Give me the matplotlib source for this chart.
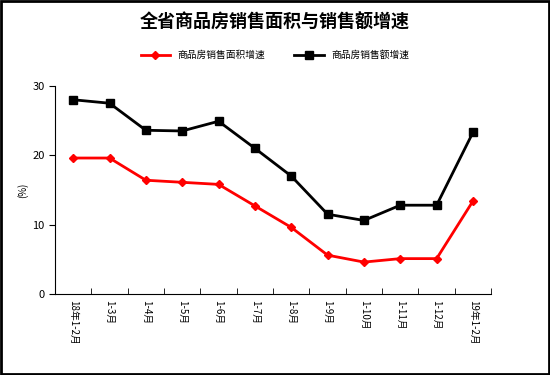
import numpy as np
import matplotlib.pyplot as plt

plt.rcParams['font.family'] = ['Noto Sans CJK SC', 'DejaVu Sans']

months = ["18年1-2月", "1-3月", "1-4月", "1-5月", "1-6月", "1-7月", "1-8月",
          "1-9月", "1-10月", "1-11月", "1-12月", "19年1-2月"]
area = [19.6, 19.6, 16.4, 16.1, 15.8, 12.7, 9.6, 5.6, 4.6, 5.1, 5.1, 13.4]
sales = [28.0, 27.5, 23.6, 23.5, 24.9, 21.0, 17.0, 11.5, 10.6, 12.8, 12.8, 23.3]

fig = plt.figure(figsize=(5.5, 3.75), dpi=100)
ax = fig.add_axes([0.1, 0.216, 0.793, 0.555])

x = np.arange(len(months))
ax.plot(x, area, color="red", lw=2, marker="D", ms=4, label="商品房销售面积增速")
ax.plot(x, sales, color="black", lw=2, marker="s", ms=6, label="商品房销售额增速")

ax.set_xlim(-0.5, len(months) - 0.5)
ax.set_ylim(0, 30)
ax.set_yticks([0, 10, 20, 30])
ax.set_xticks(x)
ax.set_xticklabels(months, rotation=270, fontsize=7, va="top", ha="center")
ax.set_xticks(np.arange(-0.5, len(months)), minor=True)
ax.tick_params(axis="x", which="major", length=0, pad=4)
ax.tick_params(axis="x", which="minor", length=4, direction="in")
ax.tick_params(axis="y", labelsize=8, length=4, direction="out")
ax.spines["top"].set_visible(False)
ax.spines["right"].set_visible(False)
ax.set_ylabel("(%)", fontsize=7, labelpad=3)

fig.text(0.5, 0.94, "全省商品房销售面积与销售额增速", ha="center", va="center",
         fontsize=13, fontweight="bold")
fig.legend(loc="center", bbox_to_anchor=(0.5, 0.853), ncol=2, frameon=False,
           fontsize=7, handlelength=3, columnspacing=3)

fig.patches.append(plt.Rectangle((0.002, 0.003), 0.996, 0.994, transform=fig.transFigure,
                                 fill=False, ec="black", lw=2))

fig.savefig("out.png", dpi=100)
